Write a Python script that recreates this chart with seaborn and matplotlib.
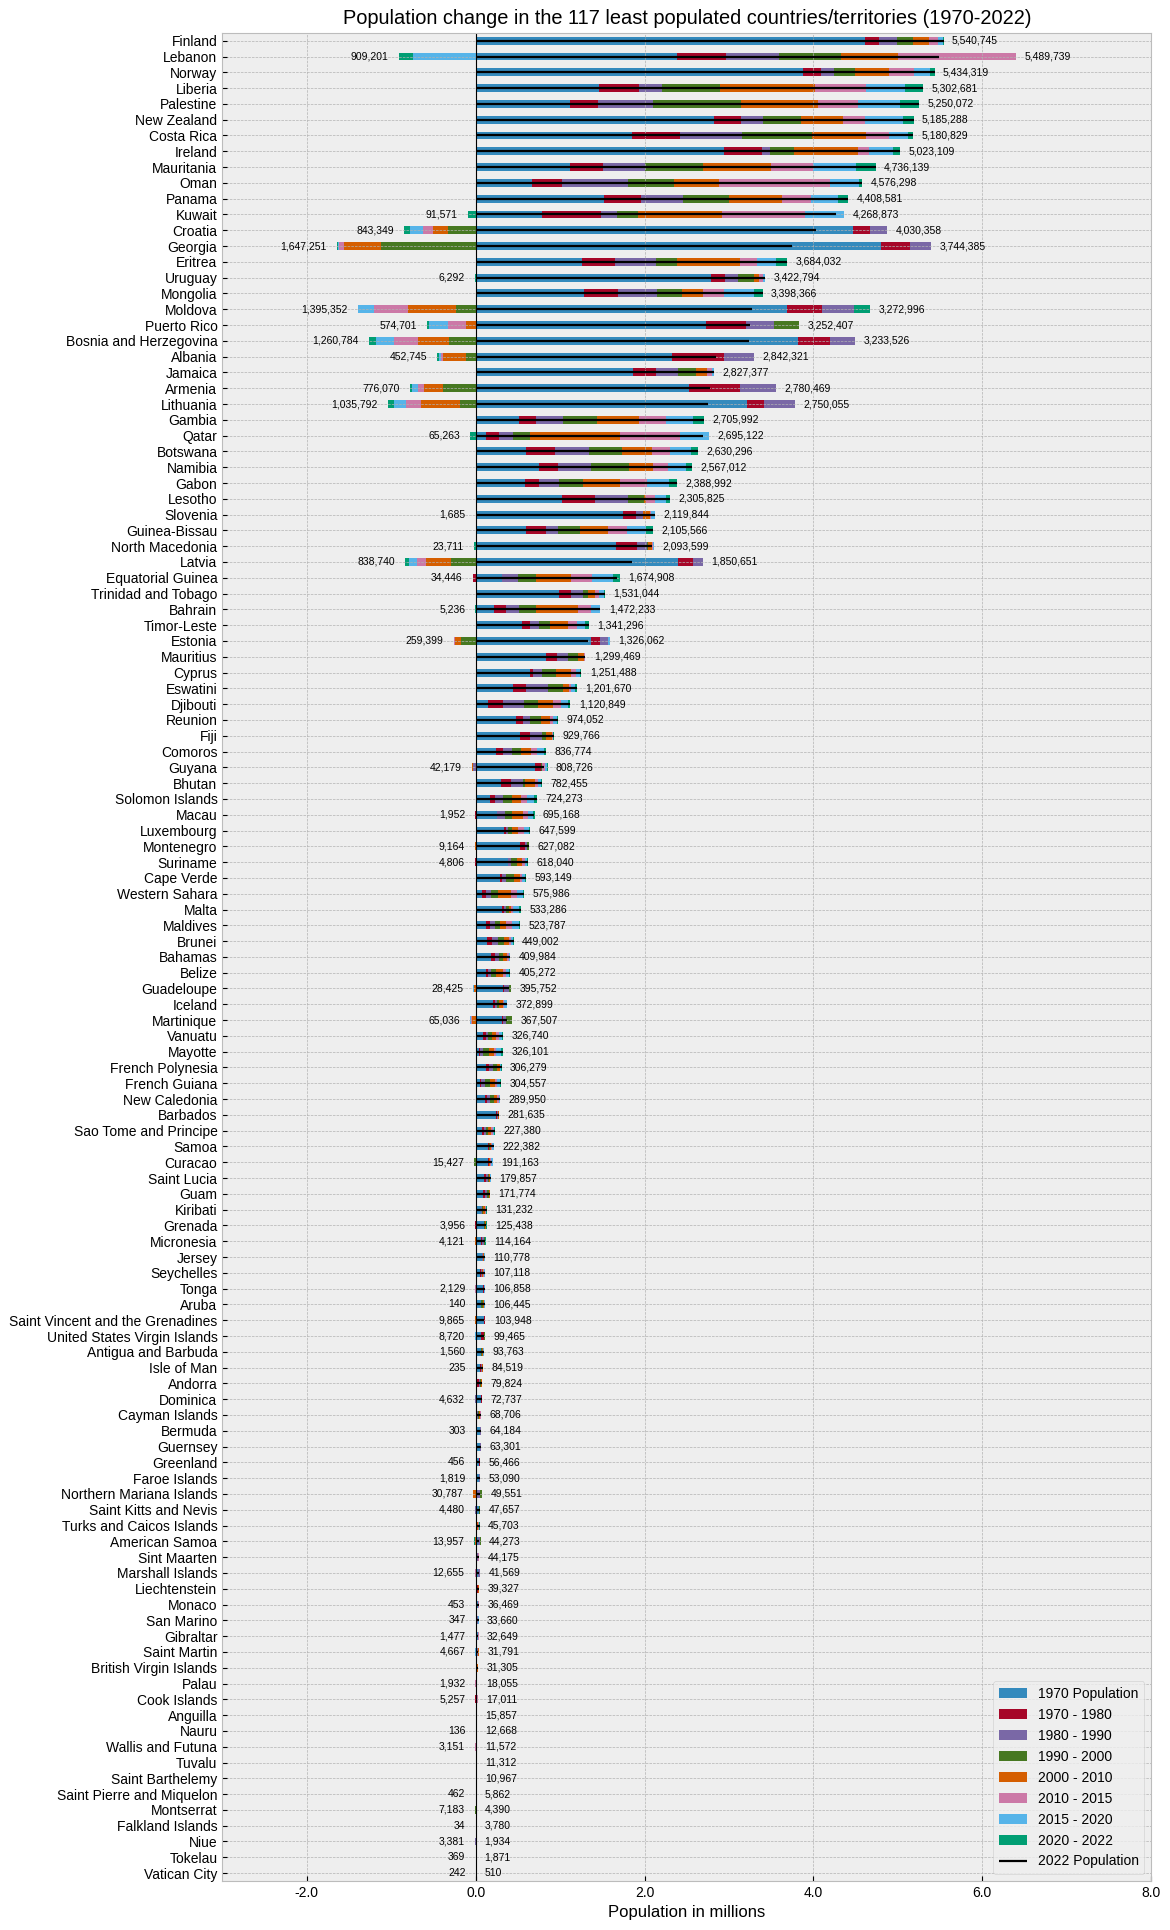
import numpy as np
import seaborn as sns
import matplotlib.pyplot as plt
from matplotlib.ticker import FormatStrFormatter

# 117 least populated countries/territories, ordered by 2022 population
countries = [
    "Finland", "Lebanon", "Norway", "Liberia", "Palestine", "New Zealand", "Costa Rica", "Ireland", "Mauritania", "Oman",
    "Panama", "Kuwait", "Croatia", "Georgia", "Eritrea", "Uruguay", "Mongolia", "Moldova", "Puerto Rico", "Bosnia and Herzegovina",
    "Albania", "Jamaica", "Armenia", "Lithuania", "Gambia", "Qatar", "Botswana", "Namibia", "Gabon", "Lesotho",
    "Slovenia", "Guinea-Bissau", "North Macedonia", "Latvia", "Equatorial Guinea", "Trinidad and Tobago", "Bahrain", "Timor-Leste", "Estonia", "Mauritius",
    "Cyprus", "Eswatini", "Djibouti", "Reunion", "Fiji", "Comoros", "Guyana", "Bhutan", "Solomon Islands", "Macau",
    "Luxembourg", "Montenegro", "Suriname", "Cape Verde", "Western Sahara", "Malta", "Maldives", "Brunei", "Bahamas", "Belize",
    "Guadeloupe", "Iceland", "Martinique", "Vanuatu", "Mayotte", "French Polynesia", "French Guiana", "New Caledonia", "Barbados", "Sao Tome and Principe",
    "Samoa", "Curacao", "Saint Lucia", "Guam", "Kiribati", "Grenada", "Micronesia", "Jersey", "Seychelles", "Tonga",
    "Aruba", "Saint Vincent and the Grenadines", "United States Virgin Islands", "Antigua and Barbuda", "Isle of Man", "Andorra", "Dominica", "Cayman Islands", "Bermuda", "Guernsey",
    "Greenland", "Faroe Islands", "Northern Mariana Islands", "Saint Kitts and Nevis", "Turks and Caicos Islands", "American Samoa", "Sint Maarten", "Marshall Islands", "Liechtenstein", "Monaco",
    "San Marino", "Gibraltar", "Saint Martin", "British Virgin Islands", "Palau", "Cook Islands", "Anguilla", "Nauru", "Wallis and Futuna", "Tuvalu",
    "Saint Barthelemy", "Saint Pierre and Miquelon", "Montserrat", "Falkland Islands", "Niue", "Tokelau", "Vatican City",
]

pop_1970 = [
    4606621, 2381791, 3875546, 1463563, 1118241, 2824061, 1855697, 2937637, 1122198, 670693,
    1516188, 784692, 4470418, 4800426, 1255380, 2790265, 1284170, 3690116, 2721959, 3815561,
    2324731, 1859091, 2525067, 3210606, 517101, 118007, 592244, 754467, 590119, 1023481,
    1741286, 591663, 1656783, 2397414, 316955, 988890, 222555, 554021, 1361999, 830115,
    640804, 442865, 144379, 473925, 527634, 242351, 705261, 298894, 172833, 247284,
    335125, 519337, 379918, 287262, 76371, 315414, 123243, 133343, 179129, 120905,
    318310, 204438, 312000, 85377, 35383, 117891, 46484, 105777, 241397, 77583,
    142771, 150385, 103090, 88300, 57437, 98794, 61604, 71000, 52232, 86000,
    59106, 98459, 63446, 64516, 55298, 19860, 68895, 10533, 52019, 51000,
    45434, 38416, 10143, 44968, 5665, 27075, 6260, 23969, 21089, 24270,
    18169, 26685, 5802, 9581, 11366, 20470, 6283, 6663, 9377, 6800,
    2417, 5537, 11402, 2274, 5185, 1714, 752,
]
pop_1980 = [
    4779418, 2963702, 4085776, 1932169, 1453620, 3147168, 2414303, 3391387, 1506694, 1017462,
    1956987, 1483918, 4665202, 5145843, 1650480, 2953750, 1685430, 4097042, 3197858, 4199820,
    2941651, 2133832, 3135123, 3413202, 718586, 277450, 938578, 978000, 749078, 1407672,
    1901570, 831462, 1907023, 2572037, 282509, 1127852, 362595, 643261, 1476983, 966039,
    679327, 598564, 324121, 557000, 644582, 328328, 776654, 415257, 233668, 245332,
    364150, 579000, 375112, 317234, 116775, 333587, 164887, 193180, 223752, 145133,
    334234, 228263, 320000, 118156, 52233, 163591, 66825, 140000, 252651, 96000,
    156000, 156851, 121633, 110286, 60813, 94838, 76299, 76500, 65290, 93000,
    62267, 107480, 96640, 66093, 64022, 35611, 75937, 17100, 53565, 53000,
    50106, 43054, 17613, 43097, 7598, 32886, 12243, 31988, 25003, 27076,
    21346, 28734, 7776, 11109, 12252, 17651, 6560, 7635, 11315, 7635,
    2983, 6106, 11573, 2240, 3637, 1647, 733,
]
pop_1990 = [
    4986545, 3593700, 4241636, 2209731, 2101525, 3397389, 3158253, 3485374, 2006027, 1804524,
    2449968, 1667823, 4873707, 5391636, 2130190, 3110039, 2143060, 4480199, 3530210, 4494310,
    3295066, 2392030, 3556539, 3785847, 1040000, 441675, 1341474, 1369011, 983028, 1798000,
    1986024, 973551, 2030000, 2689391, 471000, 1266518, 517418, 745000, 1571346, 1090290,
    788500, 854000, 577173, 647000, 780430, 431119, 745155, 558442, 324171, 350227,
    381850, 612000, 411000, 364563, 178529, 361000, 223158, 265000, 270679, 182589,
    391951, 255019, 357000, 150882, 92659, 211089, 113931, 172000, 260372, 118000,
    162000, 155446, 142301, 138263, 75124, 99047, 98603, 84000, 71057, 94500,
    64000, 112487, 100685, 64533, 69788, 53569, 71305, 26027, 57470, 58000,
    55599, 47479, 48002, 40488, 11709, 47818, 27845, 47000, 28765, 30329,
    23132, 27317, 27000, 15617, 15089, 17123, 8316, 9598, 13454, 9182,
    5168, 6324, 10805, 2332, 2533, 1669, 700,
]
pop_2000 = [
    5176209, 4320642, 4491202, 2895224, 3139954, 3855266, 3979193, 3768950, 2695003, 2344253,
    3001731, 1920437, 4548434, 4265172, 2380810, 3292454, 2440120, 4251573, 3827108, 4179350,
    3182021, 2612205, 3168523, 3599637, 1437000, 645937, 1726985, 1819141, 1272935, 1998630,
    1984339, 1230849, 2040000, 2392530, 685000, 1332203, 711442, 878360, 1399535, 1215930,
    948237, 1030496, 742033, 777000, 832509, 536758, 759051, 587207, 429978, 431896,
    436107, 628592, 478998, 458251, 270375, 393000, 282507, 333926, 325014, 240406,
    424177, 281462, 432543, 192074, 159215, 250927, 164351, 213230, 264657, 142262,
    174000, 141424, 159500, 160188, 88826, 107432, 111709, 89000, 80060, 99000,
    89101, 113813, 105000, 75055, 75562, 66097, 71400, 39658, 61371, 59000,
    56200, 45660, 80338, 45461, 18744, 58230, 30519, 54224, 33026, 32465,
    26823, 27741, 28384, 20104, 19726, 15897, 11047, 10377, 14723, 9638,
    7082, 6274, 5138, 3080, 2074, 1666, 651,
]
pop_2010 = [
    5363271, 4995800, 4889741, 4019956, 4055631, 4346338, 4622252, 4524585, 3494195, 2881914,
    3623617, 2921505, 4368682, 3836831, 3135460, 3359275, 2687500, 3678186, 3717922, 3811088,
    2913399, 2733896, 2946293, 3139019, 1937275, 1713504, 2091664, 2099271, 1711105, 2022747,
    2057286, 1567220, 2090000, 2101530, 1094524, 1410296, 1213645, 1088486, 1331535, 1283330,
    1129686, 1099920, 919199, 884000, 905169, 656024, 748371, 705516, 540394, 557297,
    507070, 619428, 546080, 521212, 413296, 414508, 361575, 396053, 373272, 322106,
    403072, 318333, 392000, 240716, 211786, 283788, 228453, 250000, 274711, 182000,
    187000, 159380, 170935, 164905, 107995, 114039, 107588, 97000, 89770, 102910,
    100341, 109308, 106142, 85695, 83828, 71519, 71500, 54074, 63447, 61000,
    56351, 48410, 54087, 46000, 29726, 54849, 33034, 53416, 35926, 33178,
    31608, 31262, 36458, 27556, 18540, 17212, 13172, 10241, 13142, 10550,
    8988, 6052, 4938, 3187, 1812, 1367, 596,
]
pop_2015 = [
    5479461, 6398940, 5190356, 4618560, 4529166, 4614532, 4895242, 4652420, 3994634, 4191776,
    3968487, 3903204, 4254815, 3771132, 3325830, 3402818, 2945600, 3277388, 3497335, 3524324,
    2882481, 2794445, 2878595, 2963765, 2253133, 2414573, 2305171, 2282704, 2028517, 2118521,
    2071199, 1788919, 2105000, 1991955, 1346973, 1460177, 1362142, 1196302, 1315329, 1293779,
    1187280, 1133936, 1006259, 919000, 917200, 730216, 778000, 743274, 612660, 616164,
    569604, 622159, 575763, 552166, 491824, 445053, 435582, 421437, 392697, 359871,
    399089, 330815, 380000, 271128, 236024, 291787, 257026, 271000, 278083, 200000,
    198000, 162000, 175623, 167978, 116707, 118980, 109462, 102000, 95843, 100781,
    104257, 105970, 108185, 89941, 84281, 71746, 71995, 60911, 63144, 62000,
    55895, 48816, 51514, 46800, 36538, 51368, 37685, 49410, 37355, 36760,
    33570, 32520, 35020, 29366, 17794, 17695, 14525, 11185, 12182, 10877,
    9643, 5978, 4600, 3408, 1847, 1454, 564,
]
pop_2020 = [
    5529468, 5662923, 5379839, 5087584, 5019401, 5061133, 5123105, 4946119, 4498604, 4543399,
    4294396, 4360444, 4096868, 3765912, 3555868, 3429086, 3294335, 3084847, 3271564, 3318407,
    2866849, 2820436, 2805608, 2820267, 2573995, 2760385, 2546402, 2489098, 2292573, 2254100,
    2117641, 2015828, 2117310, 1897052, 1596049, 1518147, 1477469, 1299995, 1329444, 1297828,
    1237537, 1180655, 1090156, 957822, 920422, 806166, 797202, 772506, 691191, 676283,
    630419, 626000, 607065, 582640, 556048, 515357, 514438, 441725, 406471, 394921,
    396051, 366669, 370000, 311685, 305587, 301920, 290969, 286403, 280693, 218641,
    214929, 189288, 179237, 169231, 126463, 123663, 112106, 108000, 105530, 105254,
    106585, 104632, 100442, 92664, 84046, 77700, 72200, 67311, 64031, 63000,
    56026, 52415, 49587, 47642, 44276, 46189, 43621, 43413, 38756, 36922,
    34007, 32709, 32552, 30910, 17972, 17029, 15585, 12315, 11655, 11069,
    10681, 5906, 4500, 3747, 1942, 1827, 520,
]
pop_2022 = [
    5540745, 5489739, 5434319, 5302681, 5250072, 5185288, 5180829, 5023109, 4736139, 4576298,
    4408581, 4268873, 4030358, 3744385, 3684032, 3422794, 3398366, 3272996, 3252407, 3233526,
    2842321, 2827377, 2780469, 2750055, 2705992, 2695122, 2630296, 2567012, 2388992, 2305825,
    2119844, 2105566, 2093599, 1850651, 1674908, 1531044, 1472233, 1341296, 1326062, 1299469,
    1251488, 1201670, 1120849, 974052, 929766, 836774, 808726, 782455, 724273, 695168,
    647599, 627082, 618040, 593149, 575986, 533286, 523787, 449002, 409984, 405272,
    395752, 372899, 367507, 326740, 326101, 306279, 304557, 289950, 281635, 227380,
    222382, 191163, 179857, 171774, 131232, 125438, 114164, 110778, 107118, 106858,
    106445, 103948, 99465, 93763, 84519, 79824, 72737, 68706, 64184, 63301,
    56466, 53090, 49551, 47657, 45703, 44273, 44175, 41569, 39327, 36469,
    33660, 32649, 31791, 31305, 18055, 17011, 15857, 12668, 11572, 11312,
    10967, 5862, 4390, 3780, 1934, 1871, 510,
]

period_labels = ["1970 - 1980", "1980 - 1990", "1990 - 2000", "2000 - 2010",
                 "2010 - 2015", "2015 - 2020", "2020 - 2022"]
colors = ["#348ABD", "#A60628", "#7A68A6", "#467821", "#D55E00", "#CC79A7", "#56B4E9", "#009E73"]

plt.style.use("bmh")
plt.rcParams["font.family"] = ["Liberation Sans", "DejaVu Sans"]

pops = np.array([pop_1970, pop_1980, pop_1990, pop_2000, pop_2010,
                 pop_2015, pop_2020, pop_2022], dtype=np.int64)
changes = np.diff(pops, axis=0)
n = len(countries)

fig, ax = plt.subplots(figsize=(11.7, 19.3), dpi=100)
fig.subplots_adjust(left=0.19, right=0.984, top=0.983, bottom=0.0254)

bar_h = 0.5
# 1970 base bar
sns.barplot(x=pops[0] / 1e6, y=countries, orient="y", color=colors[0], width=bar_h,
            saturation=1, errorbar=None, label="1970 Population", ax=ax)

# gains stack to the right of the 1970 bar, losses stack to the left of zero
pos_edge = pops[0].astype(float)
neg_edge = np.zeros(n)
for i, d in enumerate(changes):
    gain = np.clip(d, 0, None)
    loss = np.clip(d, None, 0)
    left = np.where(d >= 0, pos_edge, neg_edge + loss) / 1e6
    sns.barplot(x=np.abs(d) / 1e6, y=countries, orient="y", left=left, color=colors[i + 1],
                width=bar_h, saturation=1, errorbar=None, label=period_labels[i], ax=ax)
    pos_edge = pos_edge + gain
    neg_edge = neg_edge + loss

ax.hlines(np.arange(n), 0, pops[-1] / 1e6, color="black", lw=1.6, label="2022 Population")
ax.axvline(0, color="black", lw=0.8)

neg_total = -np.clip(changes, None, 0).sum(axis=0)
for i in range(n):
    ax.text(pos_edge[i] / 1e6 + 0.1, i, f"{pops[-1][i]:,}", va="center", ha="left", fontsize=7.5)
    if neg_total[i] > 0:
        ax.text(neg_edge[i] / 1e6 - 0.12, i, f"{neg_total[i]:,}", va="center", ha="right", fontsize=7.5)

ax.set_xlim(-3, 8)
ax.set_xticks([-2, 0, 2, 4, 6, 8])
ax.xaxis.set_major_formatter(FormatStrFormatter("%.1f"))
ax.set_ylim(n - 0.5, -0.5)
ax.yaxis.grid(True)
ax.xaxis.grid(True)
ax.set_xlabel("Population in millions")
ax.set_ylabel("")
ax.set_title("Population change in the 117 least populated countries/territories (1970-2022)")

handles, labels = ax.get_legend_handles_labels()
order = [labels.index(l) for l in ["1970 Population"] + period_labels + ["2022 Population"]]
ax.legend([handles[k] for k in order], [labels[k] for k in order], loc="lower right", fontsize=10)

fig.savefig("out.png", dpi=100)
